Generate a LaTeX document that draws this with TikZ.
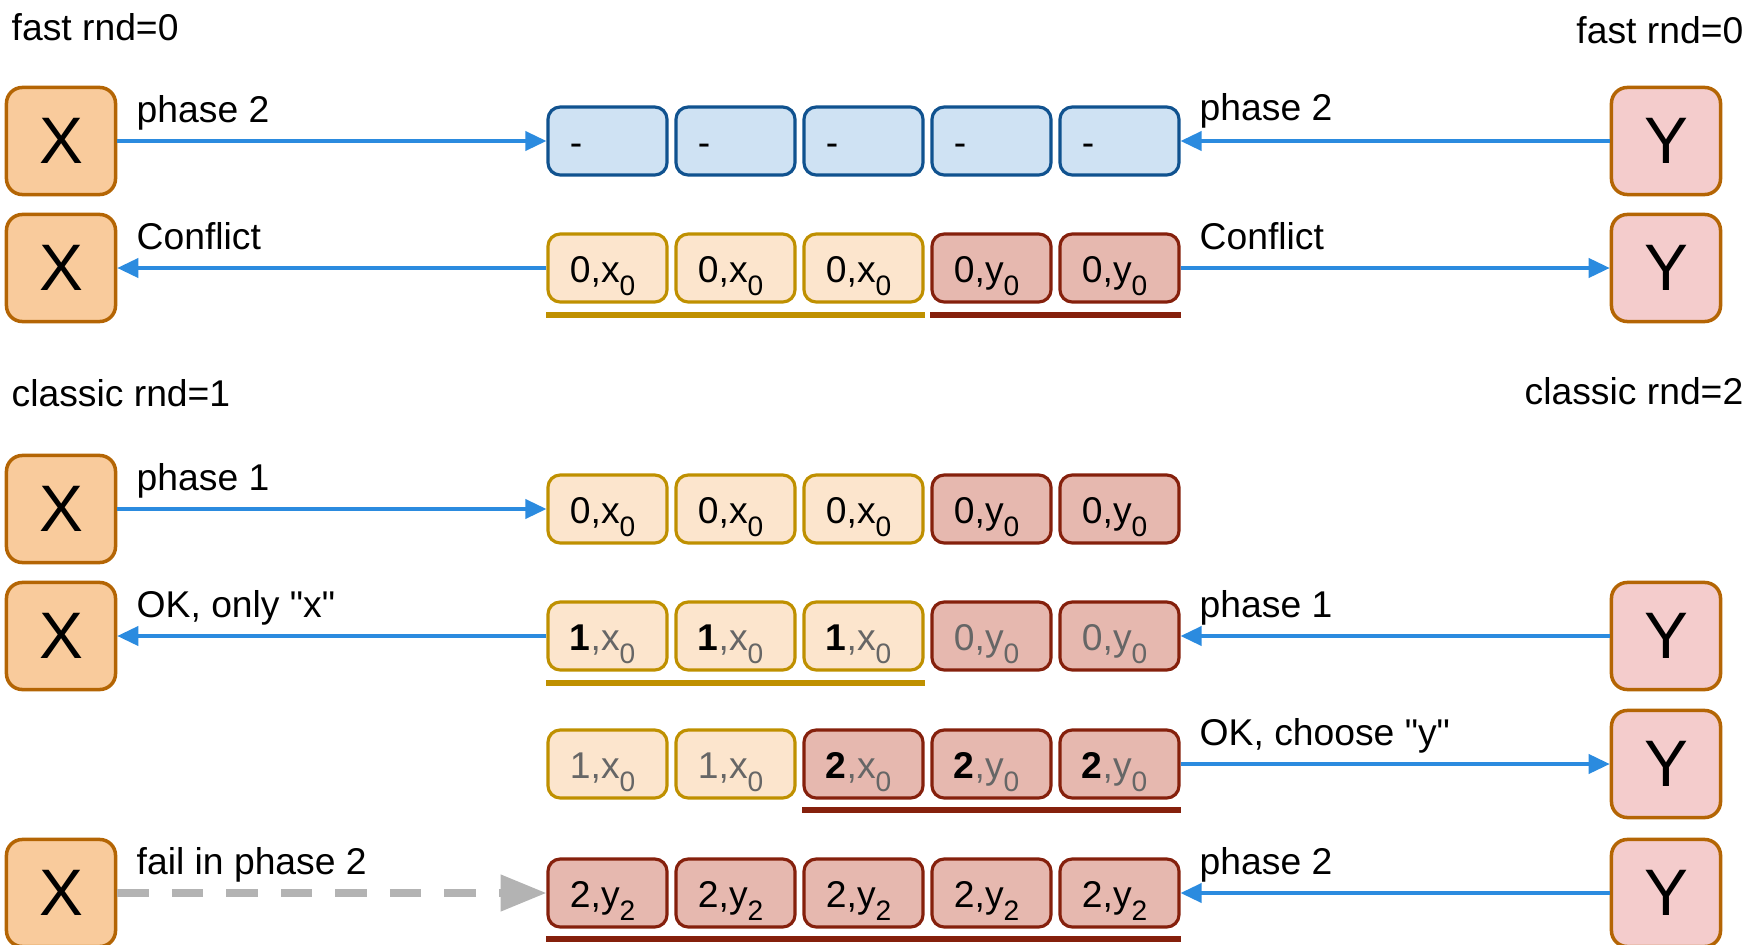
\documentclass[tikz,border=0pt]{standalone}
\usepackage{fontspec}
\newfontfamily\diagfont{Liberation Sans}
\usetikzlibrary{arrows.meta}

\definecolor{xfill}{HTML}{F9CB9C}
\definecolor{yfill}{HTML}{F4CCCC}
\definecolor{peerline}{HTML}{B46504}
\definecolor{emptyfill}{HTML}{CFE2F3}
\definecolor{emptyline}{HTML}{10528F}
\definecolor{xcellfill}{HTML}{FCE5CD}
\definecolor{xline}{HTML}{BF9000}
\definecolor{ycellfill}{HTML}{E6B8AF}
\definecolor{yline}{HTML}{85200C}
\definecolor{msgblue}{HTML}{2B8BDF}
\definecolor{lostgray}{HTML}{B3B3B3}
\definecolor{dimtext}{HTML}{666666}

\newcommand{\idx}[1]{\raisebox{-3.8pt}{\fontsize{8}{9}\selectfont #1}}
\newcommand{\gr}[1]{\textcolor{dimtext}{#1}}

\tikzset{
  peer/.style={draw=peerline, line width=1pt, rounded corners=4.5pt,
    minimum width=1.09cm, minimum height=1.07cm, inner sep=0pt,
    font=\diagfont\fontsize{18.7}{20}\selectfont},
  xpeer/.style={peer, fill=xfill},
  ypeer/.style={peer, fill=yfill},
  cell/.style={line width=0.9pt, rounded corners=3.5pt,
    minimum width=1.19cm, minimum height=0.68cm, inner xsep=0.22cm,
    inner ysep=0pt, text width=0.75cm, align=left,
    text height=11.5pt, text depth=3.5pt},
  emptycell/.style={cell, draw=emptyline, fill=emptyfill},
  xcell/.style={cell, draw=xline, fill=xcellfill},
  ycell/.style={cell, draw=yline, fill=ycellfill},
  msg/.style={draw=msgblue, line width=0.9pt, -{Triangle[length=6pt,width=5.5pt]}},
  lost/.style={draw=lostgray, line width=2pt, dash pattern=on 9pt off 6.5pt,
    -{Triangle[length=13pt,width=10pt]}},
  lbl/.style={anchor=base west, inner sep=0pt},
  xbar/.style={draw=xline, line width=1.7pt},
  ybar/.style={draw=yline, line width=1.7pt},
}

\begin{document}
\begin{tikzpicture}[x=0.01cm, y=-0.01cm, font=\diagfont\fontsize{10.6}{12.7}\selectfont]
\useasboundingbox (0,0) rectangle (1750,945);

% round headers
\node[lbl] (fastl) at (11,40) {fast rnd=0};
\node[anchor=base east, inner sep=0pt] (fastr) at (1744,43) {fast rnd=0};
\node[lbl] (classl) at (11,406) {classic rnd=1};
\node[anchor=base east, inner sep=0pt] (classr) at (1744,404) {classic rnd=2};

% proposers
\node[xpeer] (X1) at (61,141) {X};
\node[xpeer] (X2) at (61,268) {X};
\node[xpeer] (X3) at (61,509) {X};
\node[xpeer] (X4) at (61,636) {X};
\node[xpeer] (X6) at (61,893) {X};
\node[ypeer] (Y1) at (1666,141) {Y};
\node[ypeer] (Y2) at (1666,268) {Y};
\node[ypeer] (Y4) at (1666,636) {Y};
\node[ypeer] (Y5) at (1666,764) {Y};
\node[ypeer] (Y6) at (1666,893) {Y};

% acceptors
\foreach \i in {1,...,5}
  \node[emptycell] (c1\i) at (479.5+128*\i,141) {-};
\foreach \i/\s/\t in {1/xcell/x,2/xcell/x,3/xcell/x,4/ycell/y,5/ycell/y} {
  \node[\s] (c2\i) at (479.5+128*\i,268) {0,\t\idx{0}};
  \node[\s] (c3\i) at (479.5+128*\i,509) {0,\t\idx{0}};
}
\foreach \i in {1,2,3}
  \node[xcell] (c4\i) at (479.5+128*\i,636) {\textbf{1}\gr{,x\idx{0}}};
\foreach \i in {4,5}
  \node[ycell] (c4\i) at (479.5+128*\i,636) {\gr{0,y\idx{0}}};
\foreach \i in {1,2}
  \node[xcell] (c5\i) at (479.5+128*\i,764) {\gr{1,x\idx{0}}};
\node[ycell] (c53) at (863.5,764) {\textbf{2}\gr{,x\idx{0}}};
\foreach \i in {4,5}
  \node[ycell] (c5\i) at (479.5+128*\i,764) {\textbf{2}\gr{,y\idx{0}}};
\foreach \i in {1,...,5}
  \node[ycell] (c6\i) at (479.5+128*\i,893) {2,y\idx{2}};

% quorums
\draw[xbar] ([yshift=-0.116cm]c21.south west) -- ([yshift=-0.116cm]c23.south east);
\draw[ybar] ([yshift=-0.116cm]c24.south west) -- ([yshift=-0.116cm]c25.south east);
\draw[xbar] ([yshift=-0.11cm]c41.south west) -- ([yshift=-0.11cm]c43.south east);
\draw[ybar] ([yshift=-0.105cm]c53.south west) -- ([yshift=-0.105cm]c55.south east);
\draw[ybar] ([yshift=-0.105cm]c61.south west) -- ([yshift=-0.105cm]c65.south east);

% messages
\draw[msg] (X1.east) -- (c11.west);
\draw[msg] (Y1.west) -- (c15.east);
\draw[msg] (c21.west) -- (X2.east);
\draw[msg] (c25.east) -- (Y2.west);
\draw[msg] (X3.east) -- (c31.west);
\draw[msg] (c41.west) -- (X4.east);
\draw[msg] (Y4.west) -- (c45.east);
\draw[msg] (c55.east) -- (Y5.west);
\draw[lost] (X6.east) -- (c61.west);
\draw[msg] (Y6.west) -- (c65.east);

\node[lbl] (m1) at (136,122) {phase 2};
\node[lbl] (m2) at (1199,120) {phase 2};
\node[lbl] (m3) at (136,249) {Conflict};
\node[lbl] (m4) at (1199,249) {Conflict};
\node[lbl] (m5) at (136,490) {phase 1};
\node[lbl] (m6) at (136,617) {OK, only "x"};
\node[lbl] (m7) at (1199,617) {phase 1};
\node[lbl] (m8) at (1199,745) {OK, choose "y"};
\node[lbl] (m9) at (136,874) {fail in phase 2};
\node[lbl] (m10) at (1199,874) {phase 2};
\end{tikzpicture}
\end{document}
